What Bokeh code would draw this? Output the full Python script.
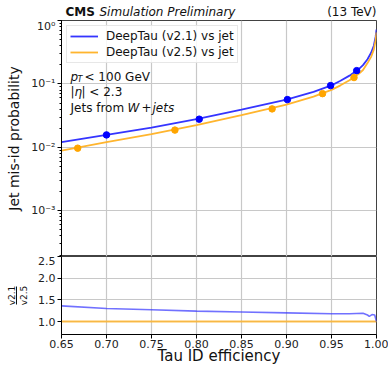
from bokeh.plotting import figure
from bokeh.layouts import column
from bokeh.models import (FixedTicker, CustomJSTickFormatter, NumeralTickFormatter, Label,
                          Legend, LegendItem, Range1d, LogTicker, LinearAxis)
from bokeh.core.properties import value
from bokeh.embed import file_html
from bokeh.resources import INLINE

# ---------------- data ----------------
eff_v21 = [0.65, 0.70, 0.75, 0.80, 0.85, 0.90, 0.93, 0.95, 0.96, 0.97, 0.98, 0.985, 0.99, 0.994, 0.997, 0.999, 1.0]
misid_v21 = [0.0121, 0.0157, 0.0205, 0.0278, 0.0392, 0.0566, 0.075, 0.095, 0.112, 0.135, 0.170, 0.198, 0.245, 0.31, 0.40, 0.55, 0.72]

eff_v25 = [0.65, 0.70, 0.75, 0.80, 0.85, 0.90, 0.93, 0.95, 0.96, 0.97, 0.98, 0.985, 0.99, 0.994, 0.997, 0.999, 1.0]
misid_v25 = [0.0089, 0.0121, 0.0161, 0.0224, 0.0321, 0.0472, 0.063, 0.0805, 0.095, 0.114, 0.143, 0.166, 0.213, 0.267, 0.348, 0.487, 0.65]

wp_eff_v21 = [0.700, 0.803, 0.901, 0.949, 0.978]
wp_misid_v21 = [0.0157, 0.0278, 0.0566, 0.094, 0.162]

wp_eff_v25 = [0.668, 0.776, 0.884, 0.940, 0.975]
wp_misid_v25 = [0.0097, 0.0187, 0.0404, 0.0703, 0.126]

ratio_eff = [0.65, 0.70, 0.75, 0.80, 0.85, 0.90, 0.95, 0.97, 0.985, 0.990, 0.992, 0.995, 0.998, 1.0]
ratio_val = [1.36, 1.30, 1.27, 1.24, 1.22, 1.20, 1.18, 1.18, 1.19, 1.15, 1.12, 1.16, 1.15, 1.00]
ratio_ref = [1.0 for _ in ratio_eff]

x_ticks = [0.65, 0.70, 0.75, 0.80, 0.85, 0.90, 0.95, 1.00]
ratio_ticks = [1.0, 1.5, 2.0, 2.5]
log_ticks = [1e-3, 1e-2, 1e-1, 1e0]

header_text = ["CMS", "Simulation Preliminary", "(13 TeV)"]
header_style = ["bold", "italic", "normal"]

# ---------------- style ----------------
FONT = "DejaVu Sans"
W = 388
BL, BR = 61, 12
HH = 19          # header strip height
BT = 1
H1 = 236
H2 = 78
BB = 33
FW = W - BL - BR

BLUE_LINE = "#3535ff"
BLUE_MARK = "#0000ff"
ORANGE_LINE = "#ffb52e"
ORANGE_MARK = "#ffa500"
GRID = "#c8c8c8"

x_range = Range1d(0.65, 1.0)

def style_axes(p):
    for ax in p.axis:
        ax.axis_line_color = "black"
        ax.axis_line_width = 1
        ax.major_tick_line_color = "black"
        ax.minor_tick_line_color = "black"
        ax.major_tick_out = 4
        ax.major_tick_in = 0
        ax.minor_tick_out = 2
        ax.minor_tick_in = 0
        ax.major_label_text_font = FONT
        ax.major_label_text_font_size = "11px"
        ax.major_label_text_color = "#222222"
        ax.axis_label_text_font = FONT
        ax.axis_label_text_font_style = "normal"
        ax.axis_label_text_color = "#111111"
        ax.major_label_standoff = 2
    p.grid.grid_line_color = GRID
    p.grid.grid_line_width = 1.2
    p.outline_line_color = "#111111"
    p.outline_line_width = 0.8
    p.outline_line_alpha = 1

# ---------------- header strip ----------------
p0 = figure(width=W, height=HH, x_range=Range1d(0, FW), y_range=Range1d(0, HH),
            x_axis_location=None, y_axis_location=None,
            output_backend="svg", toolbar_location=None,
            min_border_left=BL, min_border_right=BR, min_border_top=0, min_border_bottom=0)
p0.grid.visible = False
p0.outline_line_color = None
p0.text(x=[4, 38, FW], y=[HH - 11] * 3, text=header_text,
        text_font=value(FONT), text_font_size="12px", text_font_style=header_style,
        text_align=["left", "left", "right"], text_baseline="middle", text_color="#111111")

# ---------------- main panel ----------------
p1 = figure(width=W, height=BT + H1, x_range=x_range, y_range=Range1d(1.9e-4, 1.0),
            y_axis_type="log", output_backend="svg", toolbar_location=None,
            min_border_left=BL, min_border_right=BR, min_border_top=BT, min_border_bottom=0)
p1.xaxis.visible = False
p1.xaxis.ticker = FixedTicker(ticks=x_ticks)
p1.yaxis.ticker = LogTicker(num_minor_ticks=10)
p1.yaxis.formatter = CustomJSTickFormatter(code="""
const e = Math.round(Math.log10(tick));
const sup = {"-":"\u207b","0":"\u2070","1":"\u00b9","2":"\u00b2","3":"\u00b3","4":"\u2074"};
return "10" + String(e).split("").map(c => sup[c]).join("");
""")
p1.yaxis.axis_label = "Jet mis-id probability"
style_axes(p1)
p1.yaxis.axis_label_text_font_size = "14px"
p1.yaxis.axis_label_standoff = 6
p1.ygrid.ticker = FixedTicker(ticks=log_ticks)

l21 = p1.line(eff_v21, misid_v21, line_color=BLUE_LINE, line_width=1.8)
l25 = p1.line(eff_v25, misid_v25, line_color=ORANGE_LINE, line_width=1.8)
p1.scatter(wp_eff_v21, wp_misid_v21, size=6.5, fill_color=BLUE_MARK, line_color=BLUE_MARK)
p1.scatter(wp_eff_v25, wp_misid_v25, size=6.5, fill_color=ORANGE_MARK, line_color=ORANGE_MARK)

legend = Legend(items=[LegendItem(label="DeepTau (v2.1) vs jet", renderers=[l21]),
                       LegendItem(label="DeepTau (v2.5) vs jet", renderers=[l25])],
                location="top_left")
legend.margin = 5
legend.padding = 3
legend.spacing = 2
legend.glyph_height = 14
legend.label_height = 14
legend.glyph_width = 28
legend.label_standoff = 8
legend.label_text_font = FONT
legend.label_text_font_size = "12px"
legend.label_text_color = "#111111"
legend.border_line_color = "#d0d0d0"
legend.background_fill_alpha = 0.85
p1.add_layout(legend)

def lab(p, x, y, text, size="12px", style="normal", align="left"):
    p.add_layout(Label(x=x, y=y, x_units="screen", y_units="screen", text=text,
                       text_font=FONT, text_font_size=size, text_font_style=style,
                       text_align=align, text_baseline="middle", text_color="#111111"))

# text annotations
y_a = H1 - 56
lab(p1, 9, y_a, "p", style="italic")
lab(p1, 16, y_a - 3, "T", size="8px", style="italic")
lab(p1, 23, y_a, "< 100 GeV")
y_b = H1 - 71
lab(p1, 9, y_b, "|")
lab(p1, 13, y_b, "\u03b7", style="italic")
lab(p1, 20, y_b, "| < 2.3")
y_c = H1 - 87
lab(p1, 9, y_c, "Jets from")
lab(p1, 66, y_c, "W", style="italic")
lab(p1, 80, y_c, "+")
lab(p1, 91, y_c, "jets", style="italic")

# ---------------- ratio panel ----------------
p2 = figure(width=W, height=H2 + BB, x_range=x_range, y_range=Range1d(0.70, 2.5),
            output_backend="svg", toolbar_location=None,
            min_border_left=BL, min_border_right=BR, min_border_top=0, min_border_bottom=BB)
p2.xaxis.ticker = FixedTicker(ticks=x_ticks)
p2.xaxis.formatter = NumeralTickFormatter(format="0.00")
p2.yaxis.ticker = FixedTicker(ticks=ratio_ticks)
p2.yaxis.formatter = NumeralTickFormatter(format="0.0")
p2.xaxis.axis_label = "Tau ID efficiency"
p2.yaxis.axis_label = "v2.5"
style_axes(p2)
p2.xaxis.axis_label_text_font_size = "15px"
p2.xaxis.axis_label_standoff = -4
p2.xaxis.major_label_standoff = 1
p2.yaxis.axis_label_text_font_size = "9px"
p2.yaxis.axis_label_standoff = 6

# numerator + fraction bar: an extra left axis with a short bounded line
p2.extra_y_ranges = {"frac": Range1d(0, 1)}
frac_axis = LinearAxis(y_range_name="frac", ticker=FixedTicker(ticks=[]), bounds=(0.385, 0.615),
                       axis_label="v2.1", axis_label_standoff=0,
                       axis_label_text_font=FONT, axis_label_text_font_size="9px",
                       axis_label_text_font_style="normal", axis_label_text_color="#111111",
                       major_tick_out=0, major_tick_in=0, minor_tick_out=0, minor_tick_in=0,
                       major_label_text_font_size="0px", axis_line_color="#111111",
                       axis_line_width=1)
p2.add_layout(frac_axis, "left")

p2.line(ratio_eff, ratio_ref, line_color=ORANGE_LINE, line_width=1.8, line_alpha=0.85)
p2.line(ratio_eff, ratio_val, line_color=BLUE_LINE, line_width=1.6, line_alpha=0.7)

layout = column(p0, p1, p2, spacing=0)
open("out.html", "w").write(file_html(layout, INLINE))
